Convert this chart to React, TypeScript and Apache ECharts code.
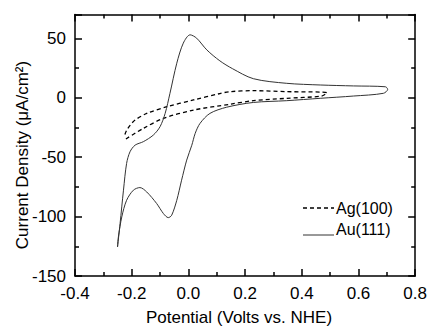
import React, { useEffect, useRef } from "react";
import * as echarts from "echarts";

const auPotential = [
  -0.25, -0.241, -0.229, -0.218, -0.206, -0.188, -0.159, -0.124, -0.1, -0.082,
  -0.065, -0.041, -0.018, 0.006, 0.029, 0.065, 0.111, 0.155, 0.229, 0.347,
  0.465, 0.582, 0.695, 0.703,
  0.688, 0.582, 0.465, 0.347, 0.229, 0.135, 0.076, 0.041, 0.024, 0.012,
  -0.006, -0.024, -0.041, -0.059, -0.071, -0.088, -0.112, -0.147, -0.171,
  -0.194, -0.218, -0.235, -0.247, -0.25,
];
const auCurrent = [
  -125.6, -105.9, -77.8, -55.3, -45.5, -39.9, -37.0, -31.5, -24.4, -13.2,
  3.7, 29.0, 45.9, 52.9, 50.1, 40.2, 31.0, 24.5, 16.0, 12.1,
  10.7, 9.9, 9.2, 7.0,
  3.7, 1.4, -0.5, -2.5, -4.0, -8.0, -13.2, -21.6, -30.0, -40.0,
  -52.5, -69.4, -86.3, -98.9, -100.9, -97.5, -89.0, -79.3, -75.6,
  -77.8, -86.3, -100.3, -117.2, -125.6,
];

const agPotential = [
  -0.224, -0.218, -0.205, -0.188, -0.147, -0.076, 0.018, 0.111, 0.147, 0.229,
  0.347, 0.489,
  0.47, 0.347, 0.229, 0.147, 0.018, -0.088, -0.159, -0.229,
];
const agCurrent = [
  -31.0, -27.5, -23.0, -18.8, -13.2, -7.6, -1.9, 3.5, 5.1, 5.9,
  5.1, 4.2,
  1.4, -0.5, -2.5, -5.5, -10.4, -17.4, -25.8, -36.0,
];

const xTicks = ["-0.4", "-0.2", "0.0", "0.2", "0.4", "0.6", "0.8"];
const yTicks = ["-150", "-100", "-50", "0", "50"];
const seriesNames = ["Ag(100)", "Au(111)"];

const zip = (xs: number[], ys: number[]) => xs.map((x, i) => [x, ys[i]]);

const FONT = "'Liberation Sans', Arial, sans-serif";
const TICK_COLOR = "black";

const mkTick = () => ({ show: true, inside: true, length: 7, lineStyle: { color: TICK_COLOR, width: 1.5 } });
const mkMinor = () => ({ show: true, splitNumber: 2, length: 4, lineStyle: { color: TICK_COLOR, width: 1.5 } });
const mkLine = () => ({ show: true, onZero: false, lineStyle: { color: "black", width: 1.5 } });

const mkX = (position: string, showLabel: boolean) => ({
  type: "value",
  min: -0.4,
  max: 0.8,
  interval: 0.2,
  position,
  axisLine: mkLine(),
  axisTick: mkTick(),
  minorTick: mkMinor(),
  splitLine: { show: false },
  minorSplitLine: { show: false },
  axisLabel: showLabel
    ? {
        show: true,
        margin: 9,
        color: "#000",
        fontFamily: FONT,
        fontSize: 17,
        formatter: (v: number) => xTicks[Math.round((v + 0.4) / 0.2)] ?? "",
      }
    : { show: false },
});

const mkY = (position: string, showLabel: boolean) => ({
  type: "value",
  min: -150,
  max: 70,
  interval: 50,
  position,
  axisLine: mkLine(),
  axisTick: mkTick(),
  minorTick: mkMinor(),
  splitLine: { show: false },
  minorSplitLine: { show: false },
  axisLabel: showLabel
    ? {
        show: true,
        margin: 9,
        color: "#000",
        fontFamily: FONT,
        fontSize: 17,
        formatter: (v: number) => {
          const r = Math.round(v);
          if (r % 50 !== 0) return "";
          return yTicks[(r + 150) / 50] ?? "";
        },
      }
    : { show: false },
});

export default function App() {
  const ref = useRef<HTMLDivElement>(null);
  useEffect(() => {
    if (!ref.current) return;
    const chart = echarts.init(ref.current, null, { renderer: "svg" });
    const legendX = 303;
    const legendY = [208, 235];
    const legendTextY = [208, 229];
    chart.setOption({
      animation: false,
      grid: { left: 75, right: 13, top: 14.5, bottom: 55 },
      xAxis: [mkX("bottom", true), mkX("top", false)],
      yAxis: [mkY("left", true), mkY("right", false)],
      graphic: [
        {
          type: "text", x: 22, y: 155, rotation: Math.PI / 2,
          style: { text: "Current Density (μA/cm²)", fontFamily: FONT, fontSize: 17, fill: "#000",
            textAlign: "center", textVerticalAlign: "middle" },
        },
        {
          type: "text", x: 239, y: 317,
          style: { text: "Potential (Volts vs. NHE)", fontFamily: FONT, fontSize: 17, fill: "#000",
            textAlign: "center", textVerticalAlign: "middle" },
        },
        {
          type: "line",
          shape: { x1: legendX, y1: legendY[0], x2: legendX + 31, y2: legendY[0] },
          style: { stroke: "#000", lineWidth: 1.3, lineDash: [4, 3] },
        },
        {
          type: "line",
          shape: { x1: legendX, y1: legendY[1], x2: legendX + 31, y2: legendY[1] },
          style: { stroke: "#333", lineWidth: 1 },
        },
        {
          type: "text", x: legendX + 33, y: legendTextY[0],
          style: { text: seriesNames[0], fontFamily: FONT, fontSize: 16, fill: "#000",
            textAlign: "left", textVerticalAlign: "middle" },
        },
        {
          type: "text", x: legendX + 33, y: legendTextY[1],
          style: { text: seriesNames[1], fontFamily: FONT, fontSize: 16, fill: "#000",
            textAlign: "left", textVerticalAlign: "middle" },
        },
      ],
      series: [
        {
          name: seriesNames[0], type: "line", data: zip(agPotential, agCurrent),
          showSymbol: false, symbol: "none", smooth: 0.3,
          lineStyle: { color: "#000", width: 1.3, type: [4, 3] },
        },
        {
          name: seriesNames[1], type: "line", data: zip(auPotential, auCurrent),
          showSymbol: false, symbol: "none", smooth: 0.3,
          lineStyle: { color: "#333", width: 1 },
        },
      ],
    });
    return () => chart.dispose();
  }, []);
  return (
    <div ref={ref} style={{ position: "fixed", left: 0, top: 0, width: 430, height: 331, background: "#fff" }} />
  );
}
